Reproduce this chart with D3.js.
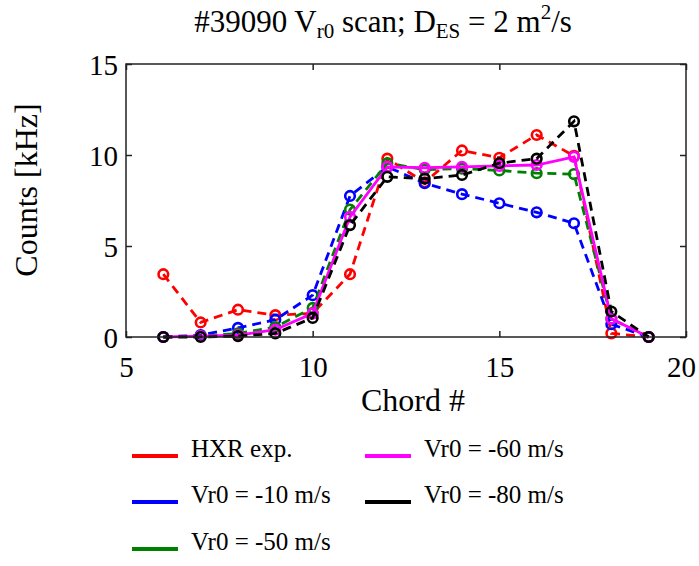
<!DOCTYPE html>
<html><head><meta charset="utf-8">
<script src="https://cdn.jsdelivr.net/npm/d3@7"></script>
<style>body{margin:0;background:#fff}svg{display:block}</style>
</head><body>
<svg id="c" width="699" height="566"></svg>
<script>
const chords = [6,7,8,9,10,11,12,13,14,15,16,17,18,19];
const hxr   = [3.45,0.8,1.5,1.2,1.3,3.45,9.8,8.5,10.25,9.85,11.1,9.95,0.2,0];
const vr10  = [0,0.1,0.5,0.95,2.3,7.75,9.35,8.45,7.85,7.35,6.85,6.25,0.7,0];
const vr50  = [0,0.05,0.2,0.55,1.6,7.0,9.55,9.2,9.25,9.15,9.0,8.95,1.0,0];
const vr60  = [0,0.05,0.1,0.4,1.3,6.6,9.35,9.3,9.35,9.4,9.45,9.9,1.0,0];
const vr80  = [0,0,0.05,0.2,1.05,6.15,8.8,8.7,8.9,9.55,9.8,11.85,1.4,0];
const xTicks = [5,10,15,20];
const yTicks = [0,5,10,15];
const seriesNames = ["HXR exp.","Vr0 = -10 m/s","Vr0 = -50 m/s","Vr0 = -60 m/s","Vr0 = -80 m/s"];
const seriesColors = ["#ff0000","#0000ff","#008000","#ff00ff","#000000"];
const seriesData = [hxr, vr10, vr50, vr60, vr80];
const seriesDash = ["9,6","9,6","9,6",null,"9,6"];

const FONT = '"Liberation Serif","Times New Roman",Tinos,"DejaVu Serif",serif';
const svg = d3.select("#c").attr("font-family",FONT);
const L=126,R=686,T=64,B=337;
const x = d3.scaleLinear().domain([5,20]).range([L,R]);
const y = d3.scaleLinear().domain([0,15]).range([B,T]);

const line = d3.line().x(d=>x(d[0])).y(d=>y(d[1]));
seriesData.forEach((data,i)=>{
  const pts = chords.map((c,j)=>[c,data[j]]);
  const g = svg.append("g");
  g.append("path").attr("d",line(pts)).attr("fill","none")
    .attr("stroke",seriesColors[i]).attr("stroke-width",2.8)
    .attr("stroke-dasharray",seriesDash[i]);
  g.selectAll("circle").data(pts).enter().append("circle")
    .attr("cx",d=>x(d[0])).attr("cy",d=>y(d[1])).attr("r",4.8)
    .attr("fill","none").attr("stroke",seriesColors[i]).attr("stroke-width",2.6);
});

svg.append("rect").attr("x",L).attr("y",T).attr("width",R-L).attr("height",B-T)
  .attr("fill","none").attr("stroke","#222").attr("stroke-width",1.5);

const xa = svg.append("g").attr("transform",`translate(0,${B})`)
  .call(d3.axisBottom(x).tickValues(xTicks).tickSize(-6).tickPadding(19).tickFormat(d3.format("d")));
const xt = svg.append("g").attr("transform",`translate(0,${T})`)
  .call(d3.axisTop(x).tickValues(xTicks).tickSize(-6).tickFormat(""));
const ya = svg.append("g").attr("transform",`translate(${L},0)`)
  .call(d3.axisLeft(y).tickValues(yTicks).tickSize(-6).tickPadding(8).tickFormat(d3.format("d")));
const yr = svg.append("g").attr("transform",`translate(${R},0)`)
  .call(d3.axisRight(y).tickValues(yTicks).tickSize(-6).tickFormat(""));
[xa,xt,ya,yr].forEach(a=>{
  a.attr("font-family",FONT);
  a.select(".domain").remove();
  a.selectAll(".tick line").attr("stroke","#222").attr("stroke-width",1.5);
  a.selectAll("text").attr("font-size",29).attr("font-family",FONT).attr("fill","#000");
});
xa.selectAll("text").attr("dy","0.71em").attr("dx",d=>d===20?-5:0);
ya.selectAll("text").attr("dy","0.35em");

svg.append("text").attr("x",413).attr("y",411).attr("text-anchor","middle")
  .attr("font-family",FONT).attr("font-size",32).text("Chord #");
svg.append("text").attr("transform","translate(37,190) rotate(-90)").attr("text-anchor","middle")
  .attr("font-family",FONT).attr("font-size",32).text("Counts [kHz]");

const t = svg.append("text").attr("x",383).attr("y",32).attr("text-anchor","middle")
  .attr("font-family",FONT).attr("font-size",31);
t.append("tspan").text("#39090 V");
t.append("tspan").attr("font-size",21).attr("dy",6).text("r0");
t.append("tspan").attr("dy",-6).text(" scan; D");
t.append("tspan").attr("font-size",21).attr("dy",6).text("ES");
t.append("tspan").attr("dy",-6).text(" = 2 m");
t.append("tspan").attr("font-size",21).attr("dy",-13).text("2");
t.append("tspan").attr("dy",13).text("/s");

const legPos = [[132,456],[132,502],[132,549],[365,456],[365,502]];
seriesNames.forEach((n,i)=>{
  const [lx,ly]=legPos[i];
  svg.append("line").attr("x1",lx).attr("x2",lx+46).attr("y1",ly).attr("y2",ly)
    .attr("stroke",seriesColors[i]).attr("stroke-width",4);
  svg.append("text").attr("x",lx+59).attr("y",ly+1).attr("font-family",FONT)
    .attr("font-size",25).text(n);
});
</script>
</body></html>
